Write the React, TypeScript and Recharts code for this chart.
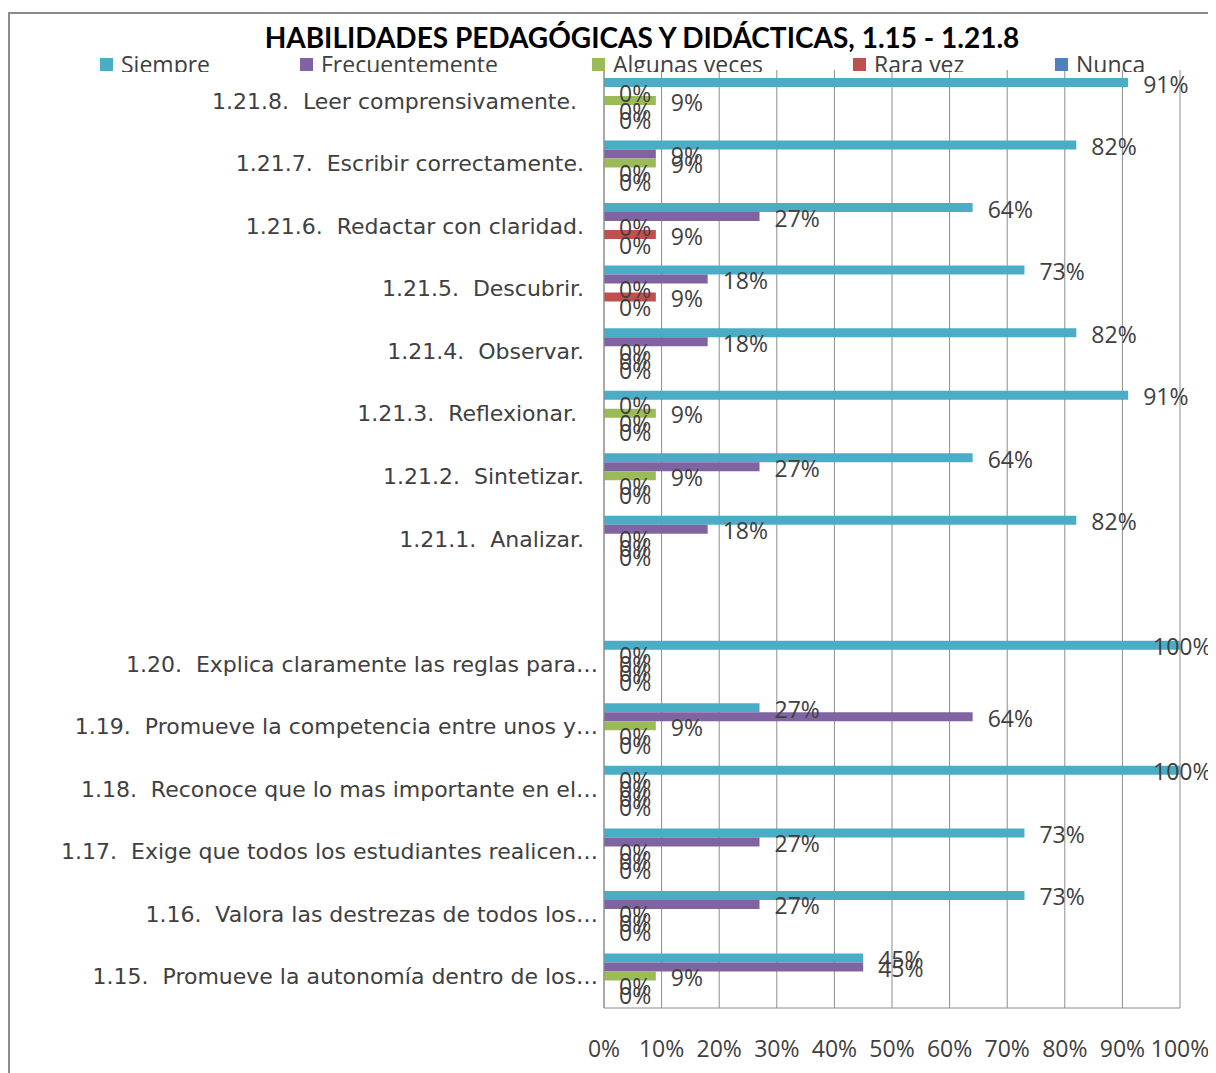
import { BarChart, Bar, XAxis, YAxis, CartesianGrid, LabelList } from 'recharts'

const categories = [
  '1.21.8.  Leer comprensivamente.   ',
  '1.21.7.  Escribir correctamente.  ',
  '1.21.6.  Redactar con claridad.  ',
  '1.21.5.  Descubrir.  ',
  '1.21.4.  Observar.  ',
  '1.21.3.  Reflexionar.   ',
  '1.21.2.  Sintetizar.  ',
  '1.21.1.  Analizar.  ',
  '',
  '1.20.  Explica claramente las reglas para…',
  '1.19.  Promueve la competencia entre unos y…',
  '1.18.  Reconoce que lo mas importante en el…',
  '1.17.  Exige que todos los estudiantes realicen…',
  '1.16.  Valora las destrezas de todos los…',
  '1.15.  Promueve la autonomía dentro de los…',
]

const siempre = [91, 82, 64, 73, 82, 91, 64, 82, null, 100, 27, 100, 73, 73, 45]
const frecuentemente = [0, 9, 27, 18, 18, 0, 27, 18, null, 0, 64, 0, 27, 27, 45]
const algunasVeces = [9, 9, 0, 0, 0, 9, 9, 0, null, 0, 9, 0, 0, 0, 9]
const raraVez = [0, 0, 9, 9, 0, 0, 0, 0, null, 0, 0, 0, 0, 0, 0]
const nunca = [0, 0, 0, 0, 0, 0, 0, 0, null, 0, 0, 0, 0, 0, 0]

const xTicks = [0, 10, 20, 30, 40, 50, 60, 70, 80, 90, 100]

const series = [
  { key: 'siempre', name: 'Siempre', color: '#4BACC6', legendX: 92 },
  { key: 'frecuentemente', name: 'Frecuentemente', color: '#8064A2', legendX: 292 },
  { key: 'algunas', name: 'Algunas veces', color: '#9BBB59', legendX: 584 },
  { key: 'rara', name: 'Rara vez', color: '#C0504D', legendX: 845 },
  { key: 'nunca', name: 'Nunca', color: '#4F81BD', legendX: 1047 },
]

const data = categories.map((name, i) => ({
  name,
  siempre: siempre[i],
  frecuentemente: frecuentemente[i],
  algunas: algunasVeces[i],
  rara: raraVez[i],
  nunca: nunca[i],
}))

const labelFont = '"Open Sans", sans-serif'
const textColor = '#404040'

const CategoryTick = ({ y, payload }: any) => (
  <text
    x={590}
    y={y}
    textAnchor="end"
    dominantBaseline="central"
    fontSize={22}
    fontFamily='"DejaVu Sans", sans-serif'
    fill={textColor}
    style={{ whiteSpace: 'pre' }}
  >
    {payload.value}
  </text>
)

// value labels; excel pulls the 100% labels back so they stay inside the frame
const ValueLabel = (props: any) => {
  const { x, y, width, height, value } = props
  if (value == null) return null
  const tx = Math.min(Number(x) + Number(width) + 15, 1145)
  return (
    <text
      x={tx}
      y={Number(y) + Number(height) / 2 + 1}
      dominantBaseline="central"
      fontSize={23}
      fontFamily={labelFont}
      fill={textColor}
    >
      {value}%
    </text>
  )
}

export default function App() {
  return (
    <div style={{ position: 'relative', width: 1208, height: 1065 }}>
      <div
        style={{
          position: 'absolute',
          left: 0,
          top: 4,
          right: 0,
          bottom: 0,
          borderTop: '2px solid #8c8c8c',
          borderLeft: '2px solid #8c8c8c',
        }}
      />
      <BarChart
        width={1208}
        height={1065}
        data={data}
        layout="vertical"
        margin={{ top: 62, right: 36, bottom: 5, left: 0 }}
        barCategoryGap={8}
        barGap={0}
        style={{ position: 'absolute', left: 0, top: 0 }}
      >
        <CartesianGrid horizontal={false} vertical stroke="#8c8c8c" strokeWidth={1} />
        <XAxis
          type="number"
          domain={[0, 100]}
          ticks={xTicks}
          tickFormatter={(v) => `${v}%`}
          tickLine={false}
          tickSize={0}
          tickMargin={33}
          height={60}
          axisLine={{ stroke: '#8c8c8c' }}
          tick={{ fontSize: 23, fill: textColor, fontFamily: labelFont }}
          interval={0}
        />
        <YAxis
          type="category"
          dataKey="name"
          width={596}
          tickLine={false}
          axisLine={{ stroke: '#8c8c8c' }}
          tick={<CategoryTick />}
          interval={0}
        />
        {series.map((s) => (
          <Bar
            key={s.key}
            dataKey={s.key}
            name={s.name}
            fill={s.color}
            minPointSize={0.01}
            isAnimationActive={false}
          >
            <LabelList dataKey={s.key} content={<ValueLabel />} />
          </Bar>
        ))}
      </BarChart>
      <div
        style={{
          position: 'absolute',
          left: 0,
          top: 12,
          width: 1268,
          textAlign: 'center',
          fontFamily: '"Lato", sans-serif',
          fontWeight: 700,
          fontSize: 28,
          color: '#000',
        }}
      >
        HABILIDADES PEDAGÓGICAS Y DIDÁCTICAS, 1.15 - 1.21.8
      </div>
      <div style={{ position: 'absolute', left: 0, top: 44, width: 1208, height: 20, overflow: 'hidden' }}>
        {series.map((s) => (
          <div
            key={s.key}
            style={{
              position: 'absolute',
              left: s.legendX,
              top: 0,
              display: 'flex',
              alignItems: 'flex-start',
              fontFamily: labelFont,
              fontSize: 23,
              lineHeight: '24px',
              color: textColor,
              whiteSpace: 'nowrap',
            }}
          >
            <span style={{ width: 13, height: 13, background: s.color, marginTop: 6, marginRight: 8 }} />
            <span>{s.name}</span>
          </div>
        ))}
      </div>
    </div>
  )
}
